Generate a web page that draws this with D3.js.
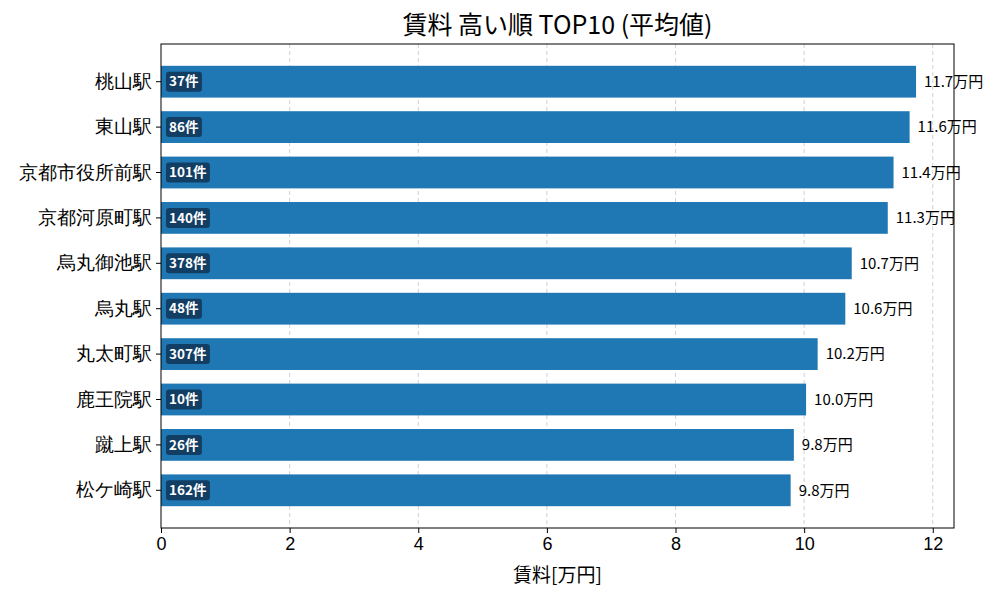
<!DOCTYPE html>
<html>
<head>
<meta charset="utf-8">
<script src="https://cdn.jsdelivr.net/npm/d3@7"></script>
<style>
  body { margin: 0; background: #fff; }
  svg { font-family: "Noto Sans CJK JP", "Noto Sans", sans-serif; }
</style>
</head>
<body>
<div id="chart"></div>
<script>
const stations = ['桃山駅', '東山駅', '京都市役所前駅', '京都河原町駅', '烏丸御池駅', '烏丸駅', '丸太町駅', '鹿王院駅', '蹴上駅', '松ケ崎駅'];
const rents = [11.74, 11.64, 11.39, 11.30, 10.74, 10.64, 10.21, 10.03, 9.84, 9.79];
const counts = [37, 86, 101, 140, 378, 48, 307, 10, 26, 162];
const xTicks = [0, 2, 4, 6, 8, 10, 12];

const data = stations.map((s, i) => ({ station: s, rent: rents[i], count: counts[i] }));

function getConfiguration(div) {
    let width = 1000, height = 600;
    let margin = { top: 44, right: 46, bottom: 72, left: 161 };
    let chartWidth = width - margin.left - margin.right;
    let chartHeight = height - margin.top - margin.bottom;
    let svg = d3.select(div).append('svg')
        .attr('width', width)
        .attr('height', height);
    let chart = svg.append('g')
        .attr('transform', `translate(${margin.left},${margin.top})`);
    return { svg, chart, width, height, margin, chartWidth, chartHeight };
}

function createScaler(config, data) {
    let { chartWidth, chartHeight } = config;
    let xScaler = d3.scaleLinear()
        .domain([0, 12.33])
        .range([0, chartWidth]);
    let yScaler = d3.scaleBand()
        .domain(data.map(d => d.station))
        .range([15, chartHeight - 15])
        .paddingInner(0.3)
        .paddingOuter(0.15);
    return { xScaler, yScaler };
}

function drawChart(data, div) {
    let config = getConfiguration(div);
    let { svg, chart, chartWidth, chartHeight, margin } = config;
    let { xScaler, yScaler } = createScaler(config, data);

    // grid
    chart.append('g').selectAll('line')
        .data(xTicks.filter(t => t > 0))
        .enter().append('line')
        .attr('x1', d => xScaler(d)).attr('x2', d => xScaler(d))
        .attr('y1', 0).attr('y2', chartHeight)
        .attr('stroke', '#cccccc')
        .attr('stroke-width', 0.9)
        .attr('stroke-dasharray', '4,3');

    // bars
    chart.append('g').selectAll('rect')
        .data(data)
        .enter().append('rect')
        .attr('x', 0)
        .attr('y', d => yScaler(d.station))
        .attr('width', d => xScaler(d.rent))
        .attr('height', yScaler.bandwidth())
        .attr('fill', '#1f77b4');

    // value labels
    chart.append('g').selectAll('text')
        .data(data)
        .enter().append('text')
        .attr('x', d => xScaler(d.rent) + 8)
        .attr('y', d => yScaler(d.station) + yScaler.bandwidth() / 2)
        .attr('dy', '0.35em')
        .attr('font-size', 15)
        .attr('fill', '#000')
        .text(d => d.rent.toFixed(1) + '万円');

    // count badges
    let badges = chart.append('g').selectAll('g')
        .data(data)
        .enter().append('g')
        .attr('transform', d => `translate(5,${yScaler(d.station) + yScaler.bandwidth() / 2})`);
    badges.append('text')
        .attr('x', 3)
        .attr('dy', '0.35em')
        .attr('font-size', 13.5)
        .attr('font-weight', 'bold')
        .attr('fill', '#fff')
        .text(d => d.count + '件');
    badges.each(function() {
        let g = d3.select(this);
        let bb = g.select('text').node().getBBox();
        g.insert('rect', 'text')
            .attr('x', bb.x - 3)
            .attr('y', -10)
            .attr('width', bb.width + 6)
            .attr('height', 20)
            .attr('rx', 3)
            .attr('fill', '#0f3050')
            .attr('fill-opacity', 0.8);
    });

    // axes
    let xAxis = chart.append('g')
        .attr('transform', `translate(0,${chartHeight})`)
        .call(d3.axisBottom(xScaler).tickValues(xTicks).tickSize(5).tickPadding(4).tickFormat(d3.format('d')));
    xAxis.selectAll('text').attr('font-size', 18).attr('fill', '#000');
    let yAxis = chart.append('g')
        .call(d3.axisLeft(yScaler).tickSize(5).tickPadding(4));
    yAxis.selectAll('text').attr('font-size', 19).attr('fill', '#000');
    chart.selectAll('.domain').remove();
    chart.selectAll('.tick line').attr('stroke', '#000');

    // frame
    chart.append('rect')
        .attr('width', chartWidth).attr('height', chartHeight)
        .attr('fill', 'none').attr('stroke', '#000').attr('stroke-width', 1);

    // titles
    svg.append('text')
        .attr('x', margin.left + chartWidth / 2)
        .attr('y', 34)
        .attr('text-anchor', 'middle')
        .attr('font-size', 25)
        .text('賃料 高い順 TOP10 (平均値)');
    svg.append('text')
        .attr('x', margin.left + chartWidth / 2)
        .attr('y', 582)
        .attr('text-anchor', 'middle')
        .attr('font-size', 19)
        .text('賃料[万円]');
}

drawChart(data, '#chart');
</script>
</body>
</html>
